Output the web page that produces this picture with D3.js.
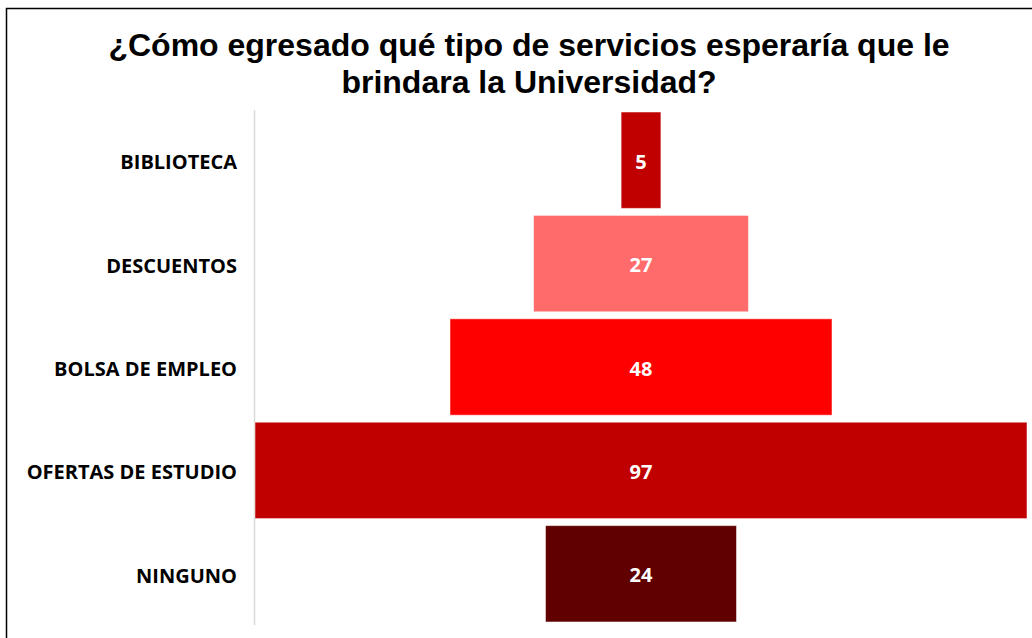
<!DOCTYPE html>
<html>
<head>
<meta charset="utf-8">
<script src="https://cdn.jsdelivr.net/npm/d3@7"></script>
<style>
  body { margin: 0; background: #fff; }
  .title { font-family: "Liberation Sans", Arial, sans-serif; font-weight: bold; font-size: 32px; fill: #000; }
  .cat { font-family: "Open Sans", sans-serif; font-weight: bold; font-size: 20px; fill: #000; }
  .val { font-family: "Open Sans", sans-serif; font-weight: bold; font-size: 20px; fill: #fff; }
</style>
</head>
<body>
<script>
var categories = ["BIBLIOTECA", "DESCUENTOS", "BOLSA DE EMPLEO", "OFERTAS DE ESTUDIO", "NINGUNO"];
var values = [5, 27, 48, 97, 24];
var colors = ["#C00000", "#FF6B6B", "#FF0000", "#C00000", "#600000"];
var titleLines = ["¿Cómo egresado qué tipo de servicios esperaría que le", "brindara la Universidad?"];

var svgWidth = 1032;
var svgHeight = 638;

var svg = d3.select("body")
  .append("svg")
  .attr("width", svgWidth)
  .attr("height", svgHeight);

// chart frame (only top and left edges are visible)
svg.append("rect")
  .attr("x", 6.5)
  .attr("y", 8.5)
  .attr("width", 1100)
  .attr("height", 700)
  .attr("fill", "none")
  .attr("stroke", "#000")
  .attr("stroke-width", 1.5);

// title
svg.selectAll(".title")
  .data(titleLines)
  .enter()
  .append("text")
  .attr("class", "title")
  .attr("x", 529)
  .attr("y", (d, i) => 56 + i * 37)
  .attr("text-anchor", "middle")
  .text(d => d);

var axisX = 254.5;
var centerX = 641;

// value -> bar width
var wScale = d3.scaleLinear()
  .domain([0, d3.max(values)])
  .range([0, 1027 - 255]);

var yScale = d3.scaleBand()
  .domain(categories)
  .range([108.5, 625.5])
  .paddingInner(0.068)
  .paddingOuter(0.034);

// vertical axis line
svg.append("line")
  .attr("x1", axisX)
  .attr("x2", axisX)
  .attr("y1", 110)
  .attr("y2", 625)
  .attr("stroke", "#d9d9d9")
  .attr("stroke-width", 1.5);

var data = categories.map((c, i) => ({ cat: c, value: values[i], color: colors[i] }));

svg.selectAll(".bar")
  .data(data)
  .enter()
  .append("rect")
  .attr("class", "bar")
  .attr("x", d => centerX - wScale(d.value) / 2)
  .attr("y", d => yScale(d.cat))
  .attr("width", d => wScale(d.value))
  .attr("height", yScale.bandwidth())
  .attr("fill", d => d.color)
  .attr("stroke", "#fff")
  .attr("stroke-opacity", 0.5)
  .attr("stroke-width", 1);

svg.selectAll(".val")
  .data(data)
  .enter()
  .append("text")
  .attr("class", "val")
  .attr("x", centerX)
  .attr("y", d => yScale(d.cat) + yScale.bandwidth() / 2)
  .attr("dy", "0.43em")
  .attr("text-anchor", "middle")
  .text(d => d.value);

svg.selectAll(".cat")
  .data(data)
  .enter()
  .append("text")
  .attr("class", "cat")
  .attr("x", 237)
  .attr("y", d => yScale(d.cat) + yScale.bandwidth() / 2)
  .attr("dy", "0.45em")
  .attr("text-anchor", "end")
  .text(d => d.cat);
</script>
</body>
</html>
